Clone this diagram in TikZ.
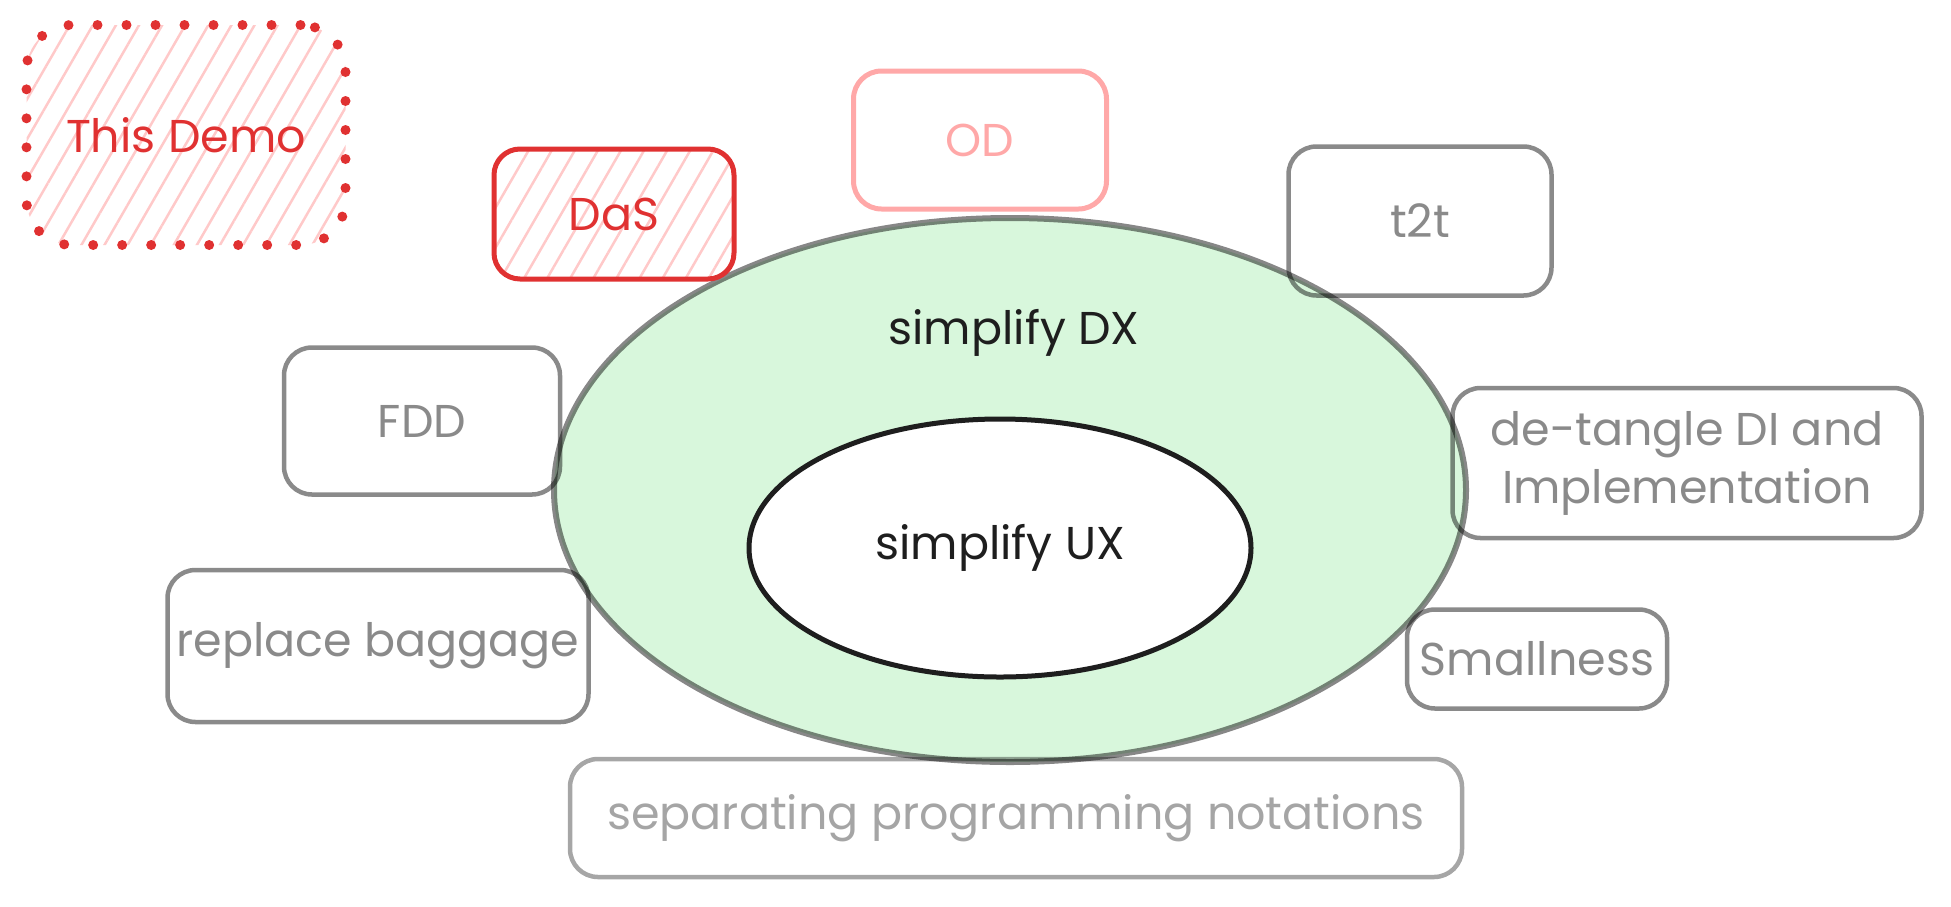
\documentclass[tikz,border=0pt]{standalone}
\usepackage{fontspec}
\setmainfont{Poppins}
\usepackage{tikz}
\usetikzlibrary{shapes.geometric, patterns.meta}
\definecolor{sketchred}{RGB}{224, 49, 49}
\definecolor{hachurered}{RGB}{255, 201, 201}
\definecolor{softred}{RGB}{255, 168, 168}
\definecolor{mintgreen}{RGB}{216, 247, 220}
\definecolor{inkblack}{RGB}{30, 30, 30}
\definecolor{topicgray}{RGB}{138, 138, 138}
\definecolor{fadedgray}{RGB}{165, 165, 165}

\begin{document}
\begin{tikzpicture}[x=1pt, y=-1pt, font=\fontsize{46}{58}\selectfont,
    topic/.style={draw=black, draw opacity=0.46, text=topicgray, line width=4.5pt, rounded corners=28pt, align=center},
    faded/.style={draw=black, draw opacity=0.35, text=fadedgray, line width=4.5pt, rounded corners=28pt},
    hatched/.style={pattern={Lines[angle=60, distance=20pt, line width=2.5pt]}, pattern color=hachurered},
    dotborder/.style={postaction={draw=sketchred, line width=10pt, line cap=round, dash pattern={on 0pt off 29pt}}}]
  \useasboundingbox (0,0) rectangle (1951,906);

  % the two rings
  \node[ellipse, draw=black, draw opacity=0.47, line width=6pt, fill=mintgreen, minimum width=912pt, minimum height=544pt] (dx) at (1010,490) {};
  \node[text=inkblack] (dxlabel) at (1014,333) {simplify DX};
  \node[ellipse, draw=inkblack, line width=5pt, fill=white, text=inkblack, minimum width=502pt, minimum height=258pt] (ux) at (1000,548) {simplify UX};

  % red ones
  \node[hatched, dotborder, text=sketchred, rounded corners=45pt, minimum width=319pt, minimum height=220pt] (demo) at (186,135) {This Demo};
  \node[hatched, draw=sketchred, text=sketchred, line width=5pt, rounded corners=26pt, minimum width=240pt, minimum height=130pt] (das) at (614,214) {DaS};
  \node[draw=softred, text=softred, line width=5pt, rounded corners=28pt, minimum width=253pt, minimum height=138pt] (od) at (980,140) {OD};

  % the topics round the rings
  \node[topic, minimum width=263pt, minimum height=149pt] (t2t) at (1420,221) {t2t};
  \node[topic, minimum width=276pt, minimum height=147pt] (fdd) at (422,421) {FDD};
  \node[topic, minimum width=469pt, minimum height=150pt] (detangle) at (1687,463) {de-tangle DI and\\Implementation};
  \node[topic, minimum width=421pt, minimum height=152pt] (baggage) at (378,646) {replace baggage};
  \node[topic, minimum width=260pt, minimum height=99pt] (small) at (1537,659) {Smallness};
  \node[faded, minimum width=892pt, minimum height=118pt] (notations) at (1016,818) {separating programming notations};
\end{tikzpicture}
\end{document}
